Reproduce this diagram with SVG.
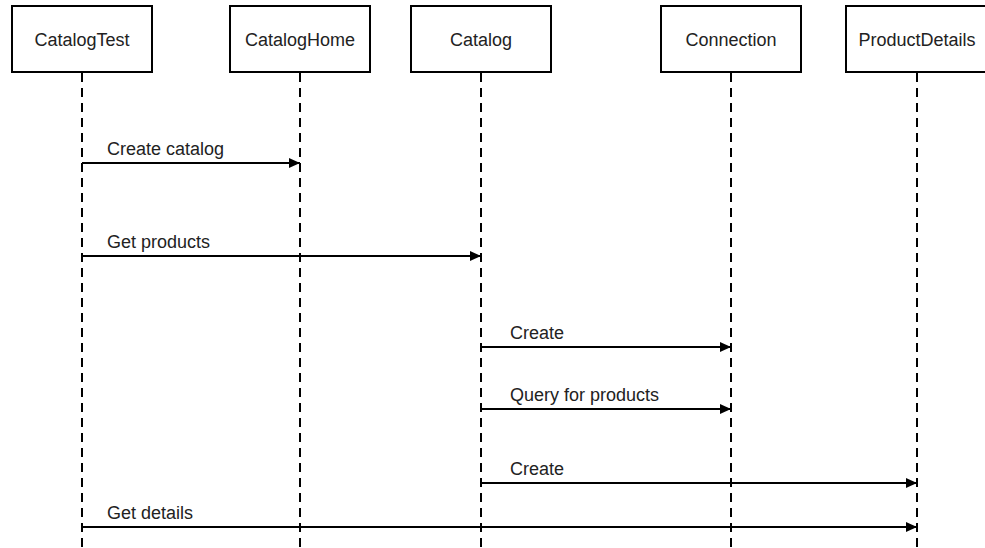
<svg xmlns="http://www.w3.org/2000/svg" width="985" height="548" viewBox="0 0 985 548">
<style>
.box{fill:#fff;stroke:#000;stroke-width:2}
.t{font-family:"Liberation Sans",Arial,sans-serif;font-size:18px;fill:#222}
.life{stroke:#000;stroke-width:2;stroke-dasharray:9 6;fill:none}
.msg{stroke:#000;stroke-width:2;fill:none;marker-end:url(#ah)}
</style>
<defs>
<marker id="ah" markerWidth="12" markerHeight="12" refX="11" refY="5" orient="auto" markerUnits="userSpaceOnUse">
<path d="M0,0 L11,5 L0,10 Z" fill="#000"/>
</marker>
</defs>
<g id="lifelines">
<line class="life" x1="82" y1="73" x2="82" y2="548"/>
<line class="life" x1="300" y1="73" x2="300" y2="548"/>
<line class="life" x1="481" y1="73" x2="481" y2="548"/>
<line class="life" x1="731" y1="73" x2="731" y2="548"/>
<line class="life" x1="917" y1="73" x2="917" y2="548"/>
</g>
<g id="CatalogTest"><rect class="box" x="12" y="6" width="140" height="66"/><text class="t" x="82" y="46" text-anchor="middle">CatalogTest</text></g>
<g id="CatalogHome"><rect class="box" x="230" y="6" width="140" height="66"/><text class="t" x="300" y="46" text-anchor="middle">CatalogHome</text></g>
<g id="Catalog"><rect class="box" x="411" y="6" width="140" height="66"/><text class="t" x="481" y="46" text-anchor="middle">Catalog</text></g>
<g id="Connection"><rect class="box" x="661" y="6" width="140" height="66"/><text class="t" x="731" y="46" text-anchor="middle">Connection</text></g>
<g id="ProductDetails"><rect class="box" x="846" y="6" width="140" height="66"/><text class="t" x="917" y="46" text-anchor="middle">ProductDetails</text></g>
<g id="connectors">
<line class="msg" x1="82" y1="163" x2="300" y2="163"/>
<text class="t" x="107" y="155">Create catalog</text>
<line class="msg" x1="82" y1="256" x2="481" y2="256"/>
<text class="t" x="107" y="248">Get products</text>
<line class="msg" x1="481" y1="347" x2="731" y2="347"/>
<text class="t" x="510" y="339">Create</text>
<line class="msg" x1="481" y1="409" x2="731" y2="409"/>
<text class="t" x="510" y="401">Query for products</text>
<line class="msg" x1="481" y1="483" x2="917" y2="483"/>
<text class="t" x="510" y="475">Create</text>
<line class="msg" x1="82" y1="527" x2="917" y2="527"/>
<text class="t" x="107" y="519">Get details</text>
</g>
</svg>
